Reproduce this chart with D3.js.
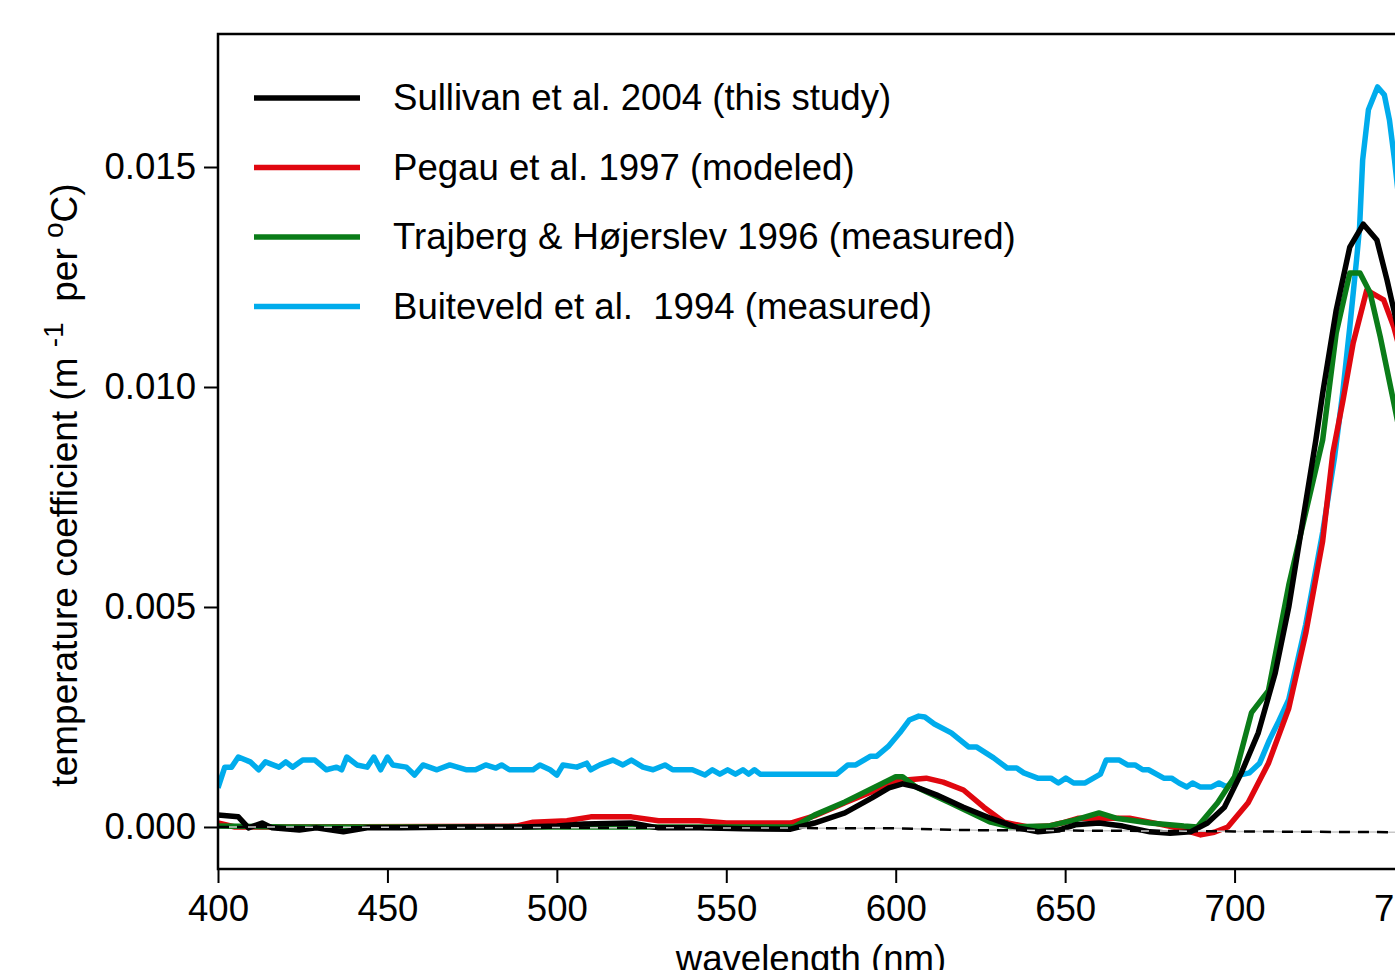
<!DOCTYPE html>
<html>
<head>
<meta charset="utf-8">
<script src="https://cdn.jsdelivr.net/npm/d3@7"></script>
<style>
  body { margin: 0; background: #fff; overflow: hidden; }
  text { font-family: "Liberation Sans", Arial, sans-serif; fill: #000; }
</style>
</head>
<body>
<svg id="chart" width="1395" height="970"></svg>
<script>
// wavelengths (nm) and temperature coefficients
var sullivanNm  = [400,406,409,413,416,424,429,437,444,454,473,490,500,508,522,530,542,555,569,576,585,593,598,602,606,612,620,628,636,642,648,653,660,667,675,681,687,692,697,702,707,712,716,720,724,726,730,734,738,742,745,747,750];
var sullivanVal = [0.00027,0.00023,-0.00002,0.00009,-0.00002,-0.00007,-0.00002,-0.00011,-0.00002,-0.00002,0,0,0.00002,0.00007,0.00009,-0.00002,-0.00002,-0.00004,-0.00005,0.00009,0.00032,0.00066,0.00089,0.00098,0.00091,0.00073,0.00045,0.0002,-0.00002,-0.00011,-0.00007,0.00005,0.00009,0.00002,-0.00011,-0.00014,-0.00011,0.00009,0.00045,0.00123,0.00214,0.0035,0.005,0.0069,0.0088,0.00986,0.01175,0.01318,0.0137,0.01334,0.01243,0.01175,0.0107];

var pegauNm  = [400,405,420,488,493,503,510,522,530,542,550,569,576,585,593,599,603,609,614,620,626,632,639,645,649,654,661,669,675,683,690,694,698,704,710,716,721,726,729,732,735,739,744,747,750];
var pegauVal = [0.00009,0,0,0.00002,0.00011,0.00014,0.00023,0.00023,0.00014,0.00014,0.00009,0.00009,0.00025,0.00055,0.0008,0.00102,0.00107,0.00111,0.00102,0.00084,0.00045,0.00011,0,0.00002,0.00009,0.0002,0.0002,0.0002,0.00011,-0.00002,-0.00018,-0.00012,0,0.00055,0.00145,0.0027,0.0044,0.0065,0.0085,0.0097,0.011,0.0122,0.01198,0.01136,0.0105];

var trajbergNm  = [400,420,570,576,585,600,602,606,616,628,634,645,653,660,665,675,685,689,695,700,705,710,716,726,730,734,737,740,743,747,750];
var trajbergVal = [0.00002,0,0,0.00027,0.00057,0.00114,0.00114,0.00091,0.00055,0.00011,0,0.00002,0.00016,0.00032,0.0002,0.00009,0.00002,0,0.00055,0.00114,0.0026,0.0031,0.0055,0.0088,0.01123,0.01259,0.01259,0.01214,0.01114,0.00964,0.0085];

var buiteveldNm  = [400,402,404,406,409.5,412,414,418,420,422,425,428.6,432,435,436.5,438,441,444,446,448,450,451.6,455.6,458,460.5,464.6,468.4,473.4,476,479,482,483.7,486,493,495,498,500,501.8,505.9,508.8,510,512.7,516.5,519.5,522,525.4,528.4,531.9,534.2,540,543.7,545.9,548.1,550.4,552.7,554.9,556.6,558.3,560,582.6,585.9,588.2,592.6,594.4,597.8,601.2,604,606.8,608.6,611.4,616.4,621.5,623.8,628.9,632.9,635.7,637.8,641.9,645.8,648,650.2,652.5,655.9,660.4,662.1,666,668.4,670.6,672.9,674.6,679.1,681.4,683.6,685.9,687.6,689.8,693.2,695.4,697.7,701.5,704.4,707.4,710.3,713,716,721,726,729.5,731.9,734,736,736.9,737.8,739.5,742.2,744.2,745.7,747.2,750];
var buiteveldVal = [0.00089,0.00136,0.00136,0.00159,0.00148,0.0013,0.00148,0.00136,0.00148,0.00136,0.00152,0.00152,0.0013,0.00136,0.0013,0.00159,0.00141,0.00136,0.00159,0.0013,0.00159,0.00141,0.00136,0.00118,0.00141,0.0013,0.00141,0.0013,0.0013,0.00141,0.00134,0.00141,0.0013,0.0013,0.00141,0.0013,0.00118,0.00141,0.00136,0.00145,0.0013,0.00141,0.00152,0.00141,0.00152,0.00136,0.0013,0.00141,0.0013,0.0013,0.00118,0.0013,0.0012,0.0013,0.0012,0.0013,0.0012,0.0013,0.0012,0.0012,0.00141,0.00141,0.00161,0.00161,0.00183,0.00214,0.00243,0.00252,0.0025,0.00234,0.00214,0.00182,0.00182,0.00157,0.00134,0.00134,0.00123,0.00111,0.00111,0.001,0.00111,0.001,0.001,0.0012,0.00152,0.00152,0.00141,0.00141,0.0013,0.0013,0.00111,0.00111,0.001,0.00091,0.001,0.00091,0.00091,0.001,0.00091,0.00118,0.00123,0.00145,0.00198,0.0024,0.0029,0.0046,0.0067,0.0084,0.00986,0.01136,0.01289,0.01364,0.01516,0.0163,0.01682,0.01664,0.01607,0.01516,0.0132];

// dashed zero reference
var zeroNm  = [400,540,600,620,700,750];
var zeroVal = [0,-0.00002,-0.00003,-0.00007,-0.0001,-0.00012];

var legendLabels = ["Sullivan et al. 2004 (this study)", "Pegau et al. 1997 (modeled)", "Trajberg & Højerslev 1996 (measured)", "Buiteveld et al.  1994 (measured)"];
var legendColors = ["#000000", "#e0070f", "#0a7c18", "#00acec"];
var xTicks = [400, 450, 500, 550, 600, 650, 700, 750];
var yTicks = [0, 0.005, 0.010, 0.015];

var plotL = 218, plotR = 1404, plotT = 34, plotB = 869;
var fs = 36.6;
var lw = 5.5;

var svg = d3.select("#chart");

var x = d3.scaleLinear().domain([400, 750]).range([plotL, plotR]);
var y = d3.scaleLinear().domain([-0.000955, 0.018023]).range([plotB, plotT]);

function pairs(nm, v) {
  return nm.map(function(d, i) { return [d, v[i]]; });
}

var line = d3.line()
  .x(function(d) { return x(d[0]); })
  .y(function(d) { return y(d[1]); });

svg.append("defs").append("clipPath").attr("id", "clip")
  .append("rect").attr("x", plotL).attr("y", plotT)
  .attr("width", plotR - plotL).attr("height", plotB - plotT);

var plot = svg.append("g").attr("clip-path", "url(#clip)");

// draw order: blue, red, green, black
var series = [
  [buiteveldNm, buiteveldVal, legendColors[3]],
  [pegauNm, pegauVal, legendColors[1]],
  [trajbergNm, trajbergVal, legendColors[2]],
  [sullivanNm, sullivanVal, legendColors[0]]
];
series.forEach(function(s) {
  plot.append("path")
    .datum(pairs(s[0], s[1]))
    .attr("d", line)
    .attr("fill", "none")
    .attr("stroke", s[2])
    .attr("stroke-width", lw)
    .attr("stroke-linejoin", "round");
});

// zero line: light gaps + black dashes
var zeroData = pairs(zeroNm, zeroVal);
plot.append("path")
  .datum(zeroData)
  .attr("d", line)
  .attr("fill", "none")
  .attr("stroke", "#c8c8c8")
  .attr("stroke-width", 1.5)
  .attr("stroke-dasharray", "8,11")
  .attr("stroke-dashoffset", -11);
plot.append("path")
  .datum(zeroData)
  .attr("d", line)
  .attr("fill", "none")
  .attr("stroke", "#000")
  .attr("stroke-width", 2.5)
  .attr("stroke-dasharray", "11,8");

// frame
svg.append("rect")
  .attr("x", plotL).attr("y", plotT)
  .attr("width", plotR - plotL).attr("height", plotB - plotT)
  .attr("fill", "none").attr("stroke", "#000").attr("stroke-width", 2.5);

// axes
var yAxis = d3.axisLeft(y).tickValues(yTicks).tickFormat(d3.format(".3f"))
  .tickSize(14).tickPadding(8);
var gy = svg.append("g").attr("transform", "translate(" + plotL + ",0)").call(yAxis);
gy.select(".domain").remove();
gy.selectAll("line").attr("stroke-width", 2);
gy.selectAll("text").attr("font-size", fs).attr("font-family", null);

var xAxis = d3.axisBottom(x).tickValues(xTicks).tickSize(14).tickPadding(12);
var gx = svg.append("g").attr("transform", "translate(0," + plotB + ")").call(xAxis);
gx.select(".domain").remove();
gx.selectAll("line").attr("stroke-width", 2);
gx.selectAll("text").attr("font-size", fs).attr("font-family", null);

// axis titles
svg.append("text")
  .attr("x", (plotL + plotR) / 2).attr("y", 971)
  .attr("text-anchor", "middle").attr("font-size", fs)
  .text("wavelength (nm)");

var yt = svg.append("text")
  .attr("transform", "translate(77,485) rotate(-90)")
  .attr("text-anchor", "middle").attr("font-size", 37)
  .style("white-space", "pre");
yt.append("tspan").text("temperature coefficient (m ");
yt.append("tspan").attr("font-size", 28).attr("dy", -14).text("-1");
yt.append("tspan").attr("dy", 14).text("  per ");
yt.append("tspan").attr("font-size", 28).attr("dy", -14).text("o");
yt.append("tspan").attr("dy", 14).text("C)");

// legend
var leg = svg.append("g");
legendLabels.forEach(function(lab, i) {
  var ly = 98 + i * 69.5;
  leg.append("line")
    .attr("x1", 254).attr("x2", 360).attr("y1", ly).attr("y2", ly)
    .attr("stroke", legendColors[i]).attr("stroke-width", lw);
  leg.append("text")
    .attr("x", 393).attr("y", ly + 12)
    .attr("font-size", fs).style("white-space", "pre")
    .text(lab);
});
</script>
</body>
</html>
